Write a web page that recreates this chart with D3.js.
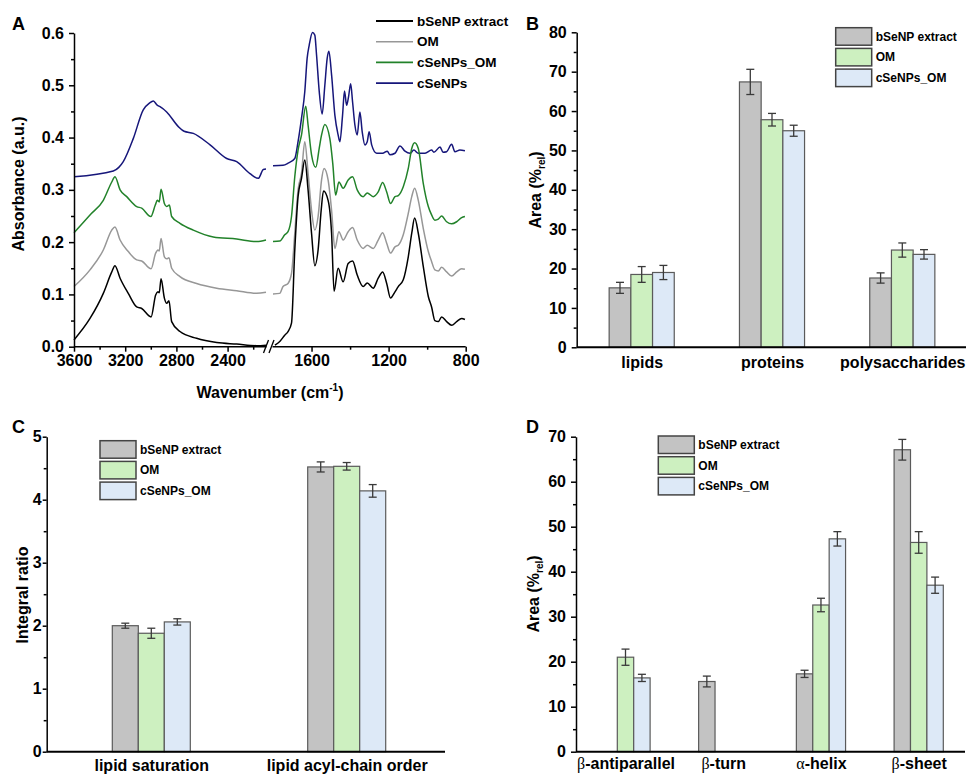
<!DOCTYPE html>
<html>
<head>
<meta charset="utf-8">
<script src="https://cdn.jsdelivr.net/npm/d3@7"></script>
<style>
  body { margin: 0; background: #fff; }
  svg { display: block; }
</style>
</head>
<body>
<svg id="fig" width="966" height="775"></svg>
<script>
// ---------- data ----------
const spectraNames = ["bSeNP extract", "OM", "cSeNPs_OM", "cSeNPs"];
const spectraColors = ["#000000", "#979797", "#22822a", "#16167a"];

// [wavenumber, absorbance], left part 3600-2100, right part 1800-800
const extractLeft = [[3600,0.013],[3475,0.054],[3371,0.102],[3305,0.143],[3280,0.155],[3240,0.131],[3176,0.102],[3110,0.076],[3071,0.073],[2998,0.057],[2962,0.099],[2944,0.105],[2934,0.103],[2920,0.130],[2894,0.093],[2876,0.083],[2858,0.088],[2837,0.048],[2772,0.029],[2642,0.016],[2485,0.008],[2329,0.005],[2173,0.002],[2100,0.003]];
const omLeft = [[3600,0.115],[3475,0.147],[3371,0.185],[3305,0.223],[3280,0.229],[3240,0.204],[3176,0.182],[3110,0.166],[3071,0.164],[2998,0.149],[2962,0.179],[2944,0.185],[2934,0.183],[2920,0.207],[2894,0.172],[2876,0.168],[2858,0.170],[2837,0.150],[2772,0.134],[2642,0.121],[2485,0.112],[2329,0.107],[2173,0.102],[2100,0.104]];
const cseOmLeft = [[3600,0.218],[3475,0.252],[3371,0.280],[3305,0.315],[3280,0.325],[3240,0.300],[3188,0.287],[3110,0.268],[3071,0.265],[3000,0.249],[2965,0.271],[2949,0.280],[2934,0.277],[2920,0.301],[2894,0.274],[2876,0.268],[2855,0.271],[2837,0.249],[2772,0.236],[2668,0.223],[2512,0.210],[2329,0.206],[2173,0.201],[2100,0.204]];
const cseLeft = [[3600,0.325],[3293,0.336],[3250,0.343],[3215,0.354],[3137,0.398],[3059,0.453],[3010,0.466],[2980,0.470],[2950,0.462],[2928,0.459],[2876,0.449],[2785,0.421],[2740,0.412],[2668,0.408],[2537,0.386],[2407,0.360],[2329,0.354],[2225,0.331],[2160,0.322],[2121,0.339],[2100,0.340]];

const extractRight = [[1790,0.003],[1765,0.010],[1739,0.022],[1722,0.029],[1704,0.045],[1687,0.185],[1670,0.287],[1652,0.322],[1635,0.357],[1618,0.300],[1600,0.217],[1583,0.155],[1566,0.185],[1550,0.261],[1538,0.298],[1514,0.280],[1496,0.217],[1483,0.106],[1462,0.150],[1436,0.124],[1410,0.159],[1387,0.164],[1363,0.137],[1332,0.115],[1311,0.122],[1280,0.112],[1254,0.131],[1231,0.143],[1210,0.121],[1190,0.093],[1167,0.105],[1150,0.115],[1124,0.128],[1098,0.172],[1080,0.217],[1065,0.246],[1046,0.217],[1020,0.153],[994,0.096],[977,0.076],[960,0.050],[942,0.048],[925,0.057],[899,0.048],[873,0.041],[847,0.048],[821,0.054],[804,0.052]];
const omRight = [[1800,0.101],[1765,0.102],[1748,0.115],[1722,0.121],[1704,0.140],[1687,0.217],[1670,0.300],[1652,0.332],[1635,0.392],[1618,0.332],[1600,0.261],[1583,0.223],[1566,0.249],[1548,0.319],[1535,0.341],[1514,0.319],[1496,0.261],[1479,0.188],[1458,0.220],[1436,0.204],[1410,0.220],[1387,0.228],[1363,0.204],[1332,0.188],[1311,0.194],[1280,0.188],[1254,0.204],[1231,0.218],[1210,0.198],[1190,0.179],[1167,0.191],[1150,0.194],[1124,0.214],[1098,0.255],[1080,0.287],[1065,0.303],[1046,0.280],[1020,0.226],[994,0.182],[977,0.163],[960,0.147],[942,0.145],[925,0.152],[899,0.143],[873,0.135],[847,0.143],[821,0.149],[804,0.148]];
const cseOmRight = [[1800,0.201],[1765,0.202],[1739,0.214],[1722,0.220],[1704,0.249],[1687,0.325],[1670,0.376],[1652,0.405],[1630,0.460],[1618,0.424],[1600,0.367],[1578,0.343],[1560,0.380],[1548,0.405],[1531,0.425],[1505,0.398],[1490,0.351],[1475,0.290],[1458,0.315],[1436,0.303],[1410,0.319],[1387,0.325],[1363,0.300],[1332,0.287],[1311,0.294],[1280,0.287],[1254,0.296],[1231,0.314],[1210,0.296],[1190,0.274],[1167,0.287],[1150,0.289],[1124,0.306],[1098,0.341],[1080,0.379],[1065,0.390],[1046,0.379],[1020,0.312],[994,0.268],[977,0.252],[960,0.242],[942,0.244],[925,0.250],[899,0.239],[873,0.235],[847,0.239],[821,0.247],[804,0.249]];
const cseRight = [[1800,0.346],[1748,0.347],[1722,0.351],[1687,0.360],[1670,0.392],[1652,0.437],[1635,0.488],[1623,0.551],[1612,0.577],[1595,0.601],[1583,0.596],[1574,0.558],[1560,0.488],[1545,0.445],[1531,0.500],[1519,0.551],[1510,0.565],[1496,0.520],[1479,0.443],[1462,0.405],[1453,0.392],[1439,0.443],[1429,0.489],[1418,0.462],[1408,0.478],[1397,0.503],[1387,0.468],[1375,0.424],[1363,0.405],[1349,0.449],[1337,0.411],[1323,0.386],[1311,0.392],[1301,0.411],[1288,0.386],[1262,0.370],[1231,0.370],[1207,0.374],[1193,0.367],[1167,0.370],[1141,0.384],[1115,0.374],[1089,0.370],[1069,0.376],[1046,0.370],[1011,0.370],[977,0.376],[965,0.372],[933,0.382],[918,0.372],[899,0.373],[873,0.387],[856,0.373],[830,0.376],[804,0.375]];

const leftTicks = [3600, 3200, 2800, 2400];
const leftMinor = [3400, 3000, 2600, 2200];
const rightTicks = [1600, 1200, 800];
const rightMinor = [1400, 1000];

const barNames = ["bSeNP extract", "OM", "cSeNPs_OM"];
const barColors = ["#c3c3c3", "#cdf0c0", "#dde9f7"];

const bCategories = ["lipids", "proteins", "polysaccharides"];
const bExtract = [15.1, 67.4, 17.6];
const bExtractErr = [1.4, 3.2, 1.3];
const bOM = [18.5, 57.8, 24.7];
const bOMErr = [2.0, 1.6, 1.8];
const bCseOM = [19.0, 55.0, 23.6];
const bCseOMErr = [1.8, 1.4, 1.2];

const cCategories = ["lipid saturation", "lipid acyl-chain order"];
const cExtract = [2.00, 4.52];
const cExtractErr = [0.04, 0.08];
const cOM = [1.88, 4.53];
const cOMErr = [0.08, 0.06];
const cCseOM = [2.06, 4.14];
const cCseOMErr = [0.05, 0.10];

const dCategories = ["β-antiparallel", "β-turn", "α-helix", "β-sheet"];
const dExtract = [null, 15.6, 17.3, 67.1];
const dExtractErr = [null, 1.2, 0.8, 2.3];
const dOM = [21.0, null, 32.6, 46.5];
const dOMErr = [1.8, null, 1.5, 2.4];
const dCseOM = [16.4, null, 47.3, 37.0];
const dCseOMErr = [0.8, null, 1.6, 1.8];

// ---------- drawing ----------
const font = '"Liberation Sans", Arial, Helvetica, sans-serif';
const svg = d3.select("#fig");
svg.attr("font-family", font).attr("font-weight", "bold");

function styleAxis(g, size) {
  g.attr("font-size", size).attr("font-family", font).attr("font-weight", "bold");
  g.selectAll("line, path").attr("stroke", "#000").attr("stroke-width", 1.5);
  g.selectAll("text").attr("fill", "#000");
}

function leftAxis(x, scale, major, minor, fmt, size, pad) {
  svg.append("g").attr("transform", `translate(${x},0)`)
    .call(d3.axisLeft(scale).tickValues(minor).tickSize(3).tickFormat(""))
    .call(g => { g.select(".domain").remove(); styleAxis(g, 16); });
  svg.append("g").attr("transform", `translate(${x},0)`)
    .call(d3.axisLeft(scale).tickValues(major).tickSize(size).tickSizeOuter(0).tickPadding(pad).tickFormat(fmt))
    .call(g => styleAxis(g, 16));
}

function panelLetter(t, x, y) {
  svg.append("text").attr("x", x).attr("y", y).attr("font-size", 18).text(t);
}

function yTitle(x, y, parts) {
  const t = svg.append("text")
    .attr("transform", `translate(${x},${y}) rotate(-90)`)
    .attr("text-anchor", "middle").attr("dy", "0.35em").attr("font-size", 16);
  parts.forEach(p => {
    const s = t.append("tspan").text(p.t);
    if (p.size) s.attr("font-size", p.size);
    if (p.dy) s.attr("dy", p.dy);
  });
}

// ---- Panel A ----
const xLeft = d3.scaleLinear().domain([3600, 2100]).range([74, 266]);
const xRight = d3.scaleLinear().domain([1800, 800]).range([273, 465.7]);
const yA = d3.scaleLinear().domain([0, 0.6]).range([346.7, 33]);

const spectra = [
  { left: extractLeft, right: extractRight },
  { left: omLeft, right: omRight },
  { left: cseOmLeft, right: cseOmRight },
  { left: cseLeft, right: cseRight }
];

const lineL = d3.line().x(d => xLeft(d[0])).y(d => yA(d[1])).curve(d3.curveMonotoneX);
const lineR = d3.line().x(d => xRight(d[0])).y(d => yA(d[1])).curve(d3.curveMonotoneX);

[3, 2, 1, 0].forEach(i => {
  svg.append("path").attr("d", lineL(spectra[i].left))
    .attr("fill", "none").attr("stroke", spectraColors[i]).attr("stroke-width", 1.5);
  svg.append("path").attr("d", lineR(spectra[i].right))
    .attr("fill", "none").attr("stroke", spectraColors[i]).attr("stroke-width", 1.5);
});

leftAxis(74, yA, d3.range(0, 0.61, 0.1), d3.range(0.05, 0.6, 0.1), d3.format(".1f"), 5, 5);

// bottom axis of A, with a break
svg.append("line").attr("x1", 74).attr("x2", 465.7).attr("y1", 346.7).attr("y2", 346.7)
  .attr("stroke", "#000").attr("stroke-width", 1.5);
[[xLeft, leftTicks, leftMinor], [xRight, rightTicks, rightMinor]].forEach(([sc, maj, mnr]) => {
  svg.append("g").attr("transform", "translate(0,346.7)")
    .call(d3.axisBottom(sc).tickValues(mnr).tickSize(3).tickFormat(""))
    .call(g => { g.select(".domain").remove(); styleAxis(g, 16); });
  svg.append("g").attr("transform", "translate(0,346.7)")
    .call(d3.axisBottom(sc).tickValues(maj).tickSize(5).tickPadding(3).tickFormat(d3.format("d")))
    .call(g => { g.select(".domain").remove(); styleAxis(g, 16); });
});
svg.append("rect").attr("x", 266.5).attr("y", 343).attr("width", 6).attr("height", 7).attr("fill", "#fff");
[263.5, 269].forEach(x0 => {
  svg.append("line").attr("x1", x0).attr("y1", 353).attr("x2", x0 + 5).attr("y2", 340)
    .attr("stroke", "#000").attr("stroke-width", 1.3);
});

svg.append("text").attr("x", 270).attr("y", 398).attr("text-anchor", "middle").attr("font-size", 16)
  .call(t => {
    t.append("tspan").text("Wavenumber (cm");
    t.append("tspan").attr("font-size", 10).attr("dy", -7).text("-1");
    t.append("tspan").attr("dy", 7).text(")");
  });
yTitle(18, 184, [{ t: "Absorbance (a.u.)" }]);
panelLetter("A", 12, 30);

// legend A
spectraNames.forEach((n, i) => {
  const y = 21 + i * 20.7;
  svg.append("line").attr("x1", 376).attr("x2", 413).attr("y1", y).attr("y2", y)
    .attr("stroke", spectraColors[i]).attr("stroke-width", i === 0 ? 2 : 1.6);
  svg.append("text").attr("x", 417).attr("y", y).attr("dy", "0.35em").attr("font-size", 13.5).text(n);
});

// ---- bar panels ----
function barPanel(cfg) {
  const x = d3.scalePoint().domain(cfg.categories).range(cfg.xRange);
  const y = d3.scaleLinear().domain(cfg.yDomain).range(cfg.yRange);
  const w = cfg.barW;
  const series = [
    { v: cfg.extract, e: cfg.extractErr },
    { v: cfg.om, e: cfg.omErr },
    { v: cfg.cseOm, e: cfg.cseOmErr }
  ];
  series.forEach((s, si) => {
    const rows = cfg.categories.map((c, ci) => ({ c, v: s.v[ci], e: s.e[ci] })).filter(d => d.v != null);
    const bx = d => x(d.c) + (si - 1.5) * w;
    svg.append("g").selectAll("rect").data(rows).enter().append("rect")
      .attr("x", bx).attr("y", d => y(d.v))
      .attr("width", w).attr("height", d => y(0) - y(d.v))
      .attr("fill", barColors[si]).attr("stroke", "#5a5a5a").attr("stroke-width", 1.2);
    const eg = svg.append("g").attr("stroke", "#3a3a3a").attr("stroke-width", 1.3);
    rows.forEach(d => {
      const cx = bx(d) + w / 2;
      eg.append("line").attr("x1", cx).attr("x2", cx).attr("y1", y(d.v - d.e)).attr("y2", y(d.v + d.e));
      eg.append("line").attr("x1", cx - 4).attr("x2", cx + 4).attr("y1", y(d.v - d.e)).attr("y2", y(d.v - d.e));
      eg.append("line").attr("x1", cx - 4).attr("x2", cx + 4).attr("y1", y(d.v + d.e)).attr("y2", y(d.v + d.e));
    });
  });

  leftAxis(cfg.axisX, y, cfg.major, cfg.minor, d3.format("d"), cfg.tick, cfg.pad);
  svg.append("line").attr("x1", cfg.axisX).attr("x2", cfg.axisEnd)
    .attr("y1", y(0)).attr("y2", y(0)).attr("stroke", "#000").attr("stroke-width", 2);

  const xa = svg.append("g").attr("transform", `translate(0,${y(0)})`)
    .call(d3.axisBottom(x).tickSize(0).tickPadding(cfg.labelPad))
    .call(g => { g.select(".domain").remove(); styleAxis(g, 16); });
  // greek letters in a thin serif face
  xa.selectAll(".tick text").each(function (d) {
    const t = d3.select(this);
    const m = /^([αβ])(.*)$/.exec(d);
    if (m) {
      t.text(null);
      t.append("tspan").attr("font-family", '"Liberation Serif", serif').attr("font-weight", "normal").text(m[1]);
      t.append("tspan").text(m[2]);
    }
  });

  // legend
  barNames.forEach((n, i) => {
    const top = cfg.legY + i * 20.7;
    svg.append("rect").attr("x", cfg.legX).attr("y", top).attr("width", 36).attr("height", 17.5)
      .attr("fill", barColors[i]).attr("stroke", "#444").attr("stroke-width", 1.5);
    svg.append("text").attr("x", cfg.legX + 40).attr("y", top + 8.75).attr("dy", "0.35em")
      .attr("font-size", 12).text(n);
  });
}

barPanel({
  categories: bCategories, extract: bExtract, extractErr: bExtractErr, om: bOM, omErr: bOMErr,
  cseOm: bCseOM, cseOmErr: bCseOMErr,
  xRange: [641.7, 902.3], yDomain: [0, 80], yRange: [347.3, 32.3], barW: 21.7,
  axisX: 576.7, axisEnd: 966, major: d3.range(0, 81, 10), minor: d3.range(5, 80, 10),
  tick: 5, pad: 5, labelPad: 9, legX: 835.7, legY: 27.7
});
yTitle(535, 190, [{ t: "Area (%" }, { t: "rel", size: 10, dy: 4 }, { t: ")", dy: -4 }]);
panelLetter("B", 526, 30);

barPanel({
  categories: cCategories, extract: cExtract, extractErr: cExtractErr, om: cOM, omErr: cOMErr,
  cseOm: cCseOM, cseOmErr: cCseOMErr,
  xRange: [151.3, 346.7], yDomain: [0, 5], yRange: [751.7, 436.7], barW: 26,
  axisX: 46.7, axisEnd: 445, major: d3.range(0, 6, 1), minor: d3.range(0.5, 5, 1),
  tick: 4, pad: 1, labelPad: 8, legX: 100, legY: 440.7
});
yTitle(22, 595, [{ t: "Integral ratio" }]);
panelLetter("C", 12, 433);

barPanel({
  categories: dCategories, extract: dExtract, extractErr: dExtractErr, om: dOM, omErr: dOMErr,
  cseOm: dCseOM, cseOmErr: dCseOMErr,
  xRange: [625.5, 918.7], yDomain: [0, 70], yRange: [751.7, 436.7], barW: 16.4,
  axisX: 576, axisEnd: 965, major: d3.range(0, 71, 10), minor: d3.range(5, 70, 10),
  tick: 5, pad: 5, labelPad: 6, legX: 658.3, legY: 436
});
yTitle(533, 594, [{ t: "Area (%" }, { t: "rel", size: 10, dy: 4 }, { t: ")", dy: -4 }]);
panelLetter("D", 526, 433);
</script>
</body>
</html>
